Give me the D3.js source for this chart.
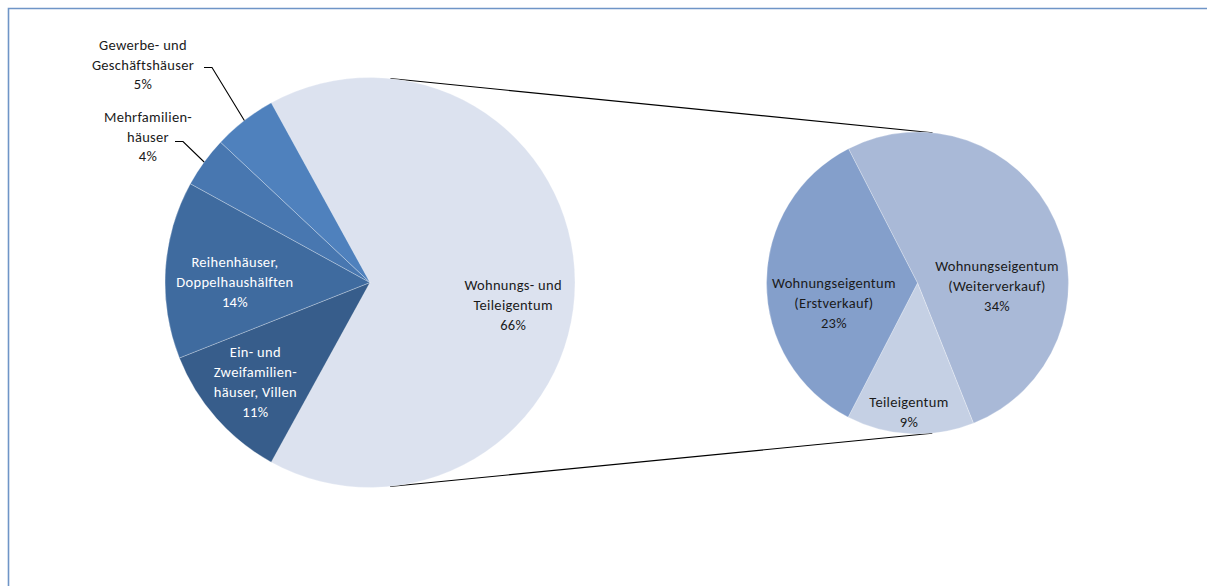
<!DOCTYPE html>
<html>
<head>
<meta charset="utf-8">
<script src="https://cdn.jsdelivr.net/npm/d3@7"></script>
<style>
  html, body { margin: 0; padding: 0; background: #fff; }
  svg { display: block; }
  text { font-family: Carlito, Lato, "Open Sans", sans-serif; font-size: 14.5px; letter-spacing: 0.3px; }
</style>
</head>
<body>
<svg id="chart" width="1207" height="586"></svg>
<script>
// Main pie: property types (share of transactions, %)
const mainCategories = [
  "Wohnungs- und Teileigentum",
  "Ein- und Zweifamilienhäuser, Villen",
  "Reihenhäuser, Doppelhaushälften",
  "Mehrfamilienhäuser",
  "Gewerbe- und Geschäftshäuser"
];
const mainValues = [66, 11, 14, 4, 5];
const mainLabelLines = [
  ["Wohnungs- und", "Teileigentum", "66%"],
  ["Ein- und", "Zweifamilien-", "häuser, Villen", "11%"],
  ["Reihenhäuser,", "Doppelhaushälften", "14%"],
  ["Mehrfamilien-", "häuser", "4%"],
  ["Gewerbe- und", "Geschäftshäuser", "5%"]
];

// Secondary pie: breakdown of Wohnungs- und Teileigentum (%)
const subCategories = [
  "Wohnungseigentum (Weiterverkauf)",
  "Teileigentum",
  "Wohnungseigentum (Erstverkauf)"
];
const subValues = [34, 9, 23];
const subLabelLines = [
  ["Wohnungseigentum", "(Weiterverkauf)", "34%"],
  ["Teileigentum", "9%"],
  ["Wohnungseigentum", "(Erstverkauf)", "23%"]
];

const mainColors = ["#dce2ef", "#375d8b", "#3f6b9f", "#4877b0", "#4f81bd"];
const subColors = ["#a9b9d7", "#c5d0e4", "#849fcb"];

const svg = d3.select("#chart");
const deg = Math.PI / 180;

// chart area frame
svg.append("path")
  .attr("d", "M8.5,586 L8.5,8.5 L1207,8.5")
  .attr("fill", "none")
  .attr("stroke", "#6f95c7")
  .attr("stroke-width", 1.6);

const main = { cx: 370, cy: 282.5, r: 205 };
const sub = { cx: 917.5, cy: 283, r: 151 };

// the split slice is centred on the 3 o'clock direction
const total = d3.sum(mainValues);
const splitAngle = mainValues[0] / total * 2 * Math.PI;
const mainStart = Math.PI / 2 - splitAngle / 2;

const mainPie = d3.pie().sort(null).value(d => d)
  .startAngle(mainStart).endAngle(mainStart + 2 * Math.PI);
const subStart = -27.2 * deg;
const subPie = d3.pie().sort(null).value(d => d)
  .startAngle(subStart).endAngle(subStart + 2 * Math.PI);

const mainArcs = mainPie(mainValues);
const subArcs = subPie(subValues);

// connector lines: common external tangents of both circles
const dx = sub.cx - main.cx, dy = sub.cy - main.cy;
const dist = Math.hypot(dx, dy);
const base = Math.atan2(dy, dx);
const phi = Math.acos((main.r - sub.r) / dist);
[base - phi, base + phi].forEach(a => {
  svg.append("line")
    .attr("x1", main.cx + main.r * Math.cos(a))
    .attr("y1", main.cy + main.r * Math.sin(a))
    .attr("x2", sub.cx + sub.r * Math.cos(a))
    .attr("y2", sub.cy + sub.r * Math.sin(a))
    .attr("stroke", "#000")
    .attr("stroke-width", 1.2);
});

const mainArc = d3.arc().innerRadius(0).outerRadius(main.r);
const subArc = d3.arc().innerRadius(0).outerRadius(sub.r);

const gMain = svg.append("g").attr("transform", `translate(${main.cx},${main.cy})`);
gMain.selectAll("path").data(mainArcs).join("path")
  .attr("d", mainArc)
  .attr("fill", (d, i) => mainColors[i])
  .attr("stroke", "rgba(255,255,255,0.35)")
  .attr("stroke-width", 0.8);

const gSub = svg.append("g").attr("transform", `translate(${sub.cx},${sub.cy})`);
gSub.selectAll("path").data(subArcs).join("path")
  .attr("d", subArc)
  .attr("fill", (d, i) => subColors[i])
  .attr("stroke", "rgba(255,255,255,0.35)")
  .attr("stroke-width", 0.8);

const lineH = 19.8;
function drawLabel(g, x, y, lines, color, anchor) {
  const t = g.append("text")
    .attr("text-anchor", anchor || "middle")
    .attr("fill", color);
  const y0 = y - (lines.length - 1) * lineH / 2;
  lines.forEach((s, i) => {
    t.append("tspan").attr("x", x).attr("y", y0 + i * lineH).attr("dy", "0.35em").text(s);
  });
}

// polar helper (angle clockwise from 12 o'clock)
const polar = (a, r) => [r * Math.sin(a), -r * Math.cos(a)];

// inside labels of the main pie: [angle offset (deg), radius factor]
const mainInside = { 0: [9, 0.707], 1: [0.5, 0.74], 2: [-3.4, 0.659] };
const mainTextColor = ["#1a1a1a", "#ffffff", "#ffffff"];
Object.keys(mainInside).forEach(k => {
  const i = +k, d = mainArcs[i];
  const mid = (d.startAngle + d.endAngle) / 2 + mainInside[k][0] * deg;
  const [x, y] = polar(mid, main.r * mainInside[k][1]);
  drawLabel(gMain, x, y, mainLabelLines[i], mainTextColor[i]);
});

// outside labels with leader lines for the two thin slices
const outside = [
  { i: 4, elbow: [-158, -215], text: [-227, -218] },
  { i: 3, elbow: [-187, -141], text: [-222, -146] }
];
outside.forEach(o => {
  const d = mainArcs[o.i];
  const mid = (d.startAngle + d.endAngle) / 2;
  const [ex, ey] = polar(mid, main.r);
  gMain.append("polyline")
    .attr("points", [[ex, ey], o.elbow, [o.elbow[0] - 8, o.elbow[1]]].map(p => p.join(",")).join(" "))
    .attr("fill", "none")
    .attr("stroke", "#000")
    .attr("stroke-width", 1.1);
  drawLabel(gMain, o.text[0], o.text[1], mainLabelLines[o.i], "#1a1a1a");
});

// labels of the secondary pie: [angle offset (deg), radius factor]
const subInside = [[26.7, 0.527], [1, 0.856], [-13.5, 0.569]];
subArcs.forEach((d, i) => {
  const mid = (d.startAngle + d.endAngle) / 2 + subInside[i][0] * deg;
  const [x, y] = polar(mid, sub.r * subInside[i][1]);
  drawLabel(gSub, x, y, subLabelLines[i], "#1a1a1a");
});
</script>
</body>
</html>
